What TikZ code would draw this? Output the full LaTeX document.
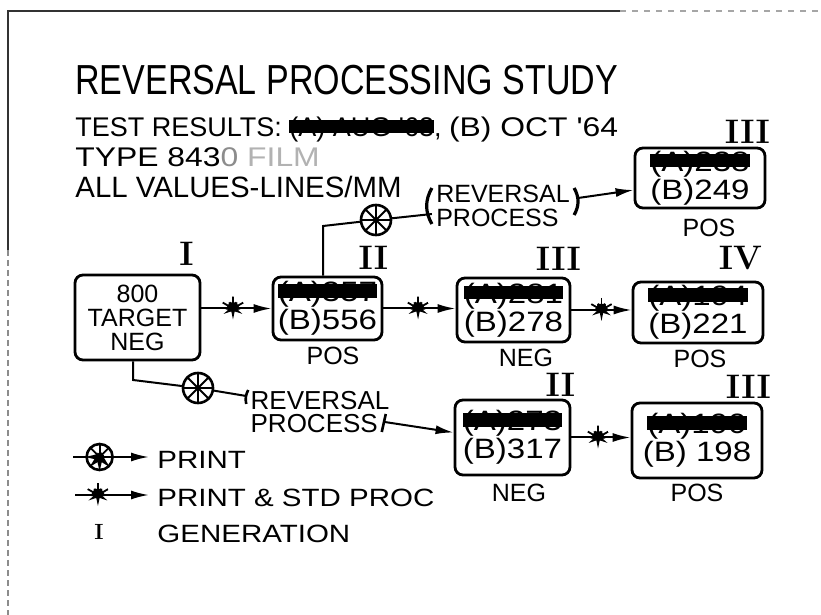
\documentclass[tikz,border=0pt]{standalone}
\usepackage{fontspec}
\newfontfamily\handfont{Liberation Sans}
\newfontfamily\titlefont[FakeStretch=0.81]{Liberation Sans}
\newfontfamily\widefont[FakeStretch=1.18]{Liberation Sans}
\usepackage{tikz}
\usetikzlibrary{arrows.meta,positioning}

% crossed-out (A) results
\newsavebox{\scrawlbox}
\newcommand{\scrawl}[1]{\sbox{\scrawlbox}{#1}\rlap{\usebox{\scrawlbox}}\rule[0.15em]{\wd\scrawlbox}{0.47em}}

\begin{document}
\begin{tikzpicture}[
    x=0.5pt, y=-0.5pt,
    >={Latex[length=9pt,width=4.5pt]},
    block/.style={rectangle, draw, line width=1.4pt, rounded corners=4pt, align=center, inner sep=1pt,
        font=\widefont\fontsize{14}{12.5}\selectfont},
    gen/.style={inner sep=0pt, font=\rmfamily\bfseries\fontsize{17}{17}\selectfont},
    kind/.style={inner sep=0pt, font=\handfont\fontsize{12.5}{12.5}\selectfont},
    note/.style={inner sep=0pt, anchor=base west},
    link/.style={line width=1pt},
    astmark/.style={circle, minimum size=12pt, inner sep=0pt,
        path picture={\foreach \a in {90,30,150}
            \draw[line width=0.9pt] (path picture bounding box.center) ++(\a:6pt) -- ++({\a+180}:12pt);}},
    printmark/.style={circle, draw, fill=white, line width=1.3pt, minimum size=15pt, inner sep=0pt,
        path picture={\foreach \a in {0,45,90,135}
            \draw[line width=0.9pt] (path picture bounding box.center) ++(\a:8pt) -- ++({\a+180}:16pt);}}
]
    \useasboundingbox (0,0) rectangle (821,615);

    % page edge
    \draw[black!80, line width=0.9pt] (8,250) -- (8,11) -- (620,11);
    \draw[black!35, line width=0.7pt, dashed] (620,11) -- (821,11);
    \draw[black!45, line width=0.7pt, densely dashed] (8,250) -- (8,615);

    % heading
    \node[note, font=\titlefont\fontsize{21}{21}\selectfont] (ttl) at (75,95) {REVERSAL PROCESSING STUDY};
    \node[note, font=\handfont\fontsize{13.5}{13.5}\selectfont] (hd1) at (75,137) {TEST RESULTS: \scrawl{(A) AUG '63}, {\widefont (B) OCT '64}};
    \node[note, font=\widefont\fontsize{13.5}{13.5}\selectfont] (hd2) at (75,167) {TYPE 843{\color{black!45}0} {\color{black!30}FILM}};
    \node[note, font=\handfont\fontsize{14.7}{14.7}\selectfont] (hd3) at (75,198) {ALL VALUES-LINES/MM};

    % film generations
    \node[block, minimum width=62.5pt, minimum height=42.5pt, font=\handfont\fontsize{12.5}{12}\selectfont] (b1) at (137.5,317.5) {800\\TARGET\\NEG};
    \node[block, minimum width=54.5pt, minimum height=31.5pt] (b2) at (327.5,308.5) {\scrawl{(A)357}\\(B)556};
    \node[block, minimum width=56.5pt, minimum height=32pt] (b3) at (513.5,310) {\scrawl{(A)281}\\(B)278};
    \node[block, minimum width=65pt, minimum height=30.5pt] (b4) at (698,312.5) {\scrawl{(A)194}\\(B)221};
    \node[block, minimum width=65pt, minimum height=30pt] (b5) at (700,178) {\scrawl{(A)238}\\(B)249};
    \node[block, minimum width=57.5pt, minimum height=37.5pt] (b6) at (512.5,437.5) {\scrawl{(A)273}\\(B)317};
    \node[block, minimum width=65pt, minimum height=37.5pt] (b7) at (697,440.5) {\scrawl{(A)190}\\(B) 198};

    % generation numbers
    \node[gen, above=4pt of b1.north east, xshift=-7.5pt] (g1) {I};
    \node[gen, above=3pt of b2.north east, xshift=-5pt] (g2) {II};
    \node[gen, above=3pt of b3.north east, xshift=-6.5pt] (g3) {III};
    \node[gen, above=5pt of b4.north east, xshift=-12pt] (g4) {IV};
    \node[gen, above=1.5pt of b5.north east, xshift=-9.5pt] (g5) {III};
    \node[gen, above=1pt of b6.north east, xshift=-5.5pt] (g6) {II};
    \node[gen, above=1.5pt of b7.north east, xshift=-7.5pt] (g7) {III};

    % POS / NEG
    \node[kind, below=2.5pt of b2, xshift=2.75pt] (t2) {POS};
    \node[kind, below=2.5pt of b3, xshift=6.25pt] (t3) {NEG};
    \node[kind, below=2.5pt of b4, xshift=1pt] (t4) {POS};
    \node[kind, below=4.5pt of b5, xshift=4.5pt] (t5) {POS};
    \node[kind, below=3.5pt of b6, xshift=3.25pt] (t6) {NEG};
    \node[kind, below=2pt of b7] (t7) {POS};

    % print & std proc
    \draw[link, ->] (b2.west -| b1.east) -- node[astmark, pos=0.45] (a12) {} (b2.west);
    \draw[link, ->] (b2.east) -- node[astmark, pos=0.48] (a23) {} (b2.east -| b3.west);
    \draw[link, ->] (b3.east) -- node[astmark, pos=0.5] (a34) {} (b3.east -| b4.west);
    \draw[link, ->] (b6.east) -- node[astmark, pos=0.45] (a67) {} (b6.east -| b7.west);

    % reversal branch to III
    \coordinate (k1) at (323,226);
    \node[printmark] (pm1) at (376,220) {};
    \node[align=left, inner sep=2pt, font=\handfont\fontsize{12.5}{12}\selectfont] (rv1) at (503,206) {REVERSAL\\PROCESS};
    \draw[link] (b2.north -| k1) -- (k1) -- (pm1) -- ([yshift=-4pt]rv1.west);
    \draw[line width=1.6pt] ([yshift=9pt]rv1.west) to[bend right=30] ([yshift=-9pt]rv1.west);
    \draw[line width=1.6pt] ([yshift=9pt]rv1.east) to[bend left=30] ([yshift=-4.5pt]rv1.east);
    \draw[link, ->] ([xshift=2pt,yshift=4pt]rv1.east) -- ([yshift=-6pt]b5.west);

    % reversal branch to II
    \coordinate (k3) at (133,380);
    \node[printmark] (pm2) at (198,388) {};
    \node[align=left, inner sep=2pt, font=\handfont\fontsize{13}{11.5}\selectfont] (rv2) at (320,412) {REVERSAL\\PROCESS};
    \draw[link] (b1.south -| k3) -- (k3) -- (pm2) -- ([yshift=8pt]rv2.west);
    \draw[line width=1.3pt] ([xshift=1pt,yshift=11pt]rv2.west) to[bend right=20] ([yshift=4pt]rv2.west);
    \draw[line width=1.3pt] ([xshift=-4pt,yshift=-1pt]rv2.east) -- ([xshift=-6pt,yshift=-10pt]rv2.east);
    \draw[link, ->] ([xshift=-4.5pt,yshift=-5pt]rv2.east) -- ([yshift=2.5pt]b6.west);

    % legend
    \coordinate (l1a) at (73,457);
    \coordinate (l1b) at (149,457);
    \draw[link, ->] (l1a) -- node[printmark, minimum size=13pt, pos=0.35] (pm3) {} (l1b);
    \node[note, font=\widefont\fontsize{12.5}{12.5}\selectfont] (lt1) at (157,468) {PRINT};
    \coordinate (l2a) at (75,495);
    \coordinate (l2b) at (149,495);
    \draw[link, ->] (l2a) -- node[astmark, pos=0.31] (a0) {} (l2b);
    \node[note, font=\widefont\fontsize{12.5}{12.5}\selectfont] (lt2) at (157,507) {PRINT \& STD PROC};
    \node[gen, font=\rmfamily\bfseries\fontsize{11}{11}\selectfont] (lg) at (99,532) {I};
    \node[note, font=\widefont\fontsize{12.5}{12.5}\selectfont] (lt3) at (157,542) {GENERATION};
\end{tikzpicture}
\end{document}
